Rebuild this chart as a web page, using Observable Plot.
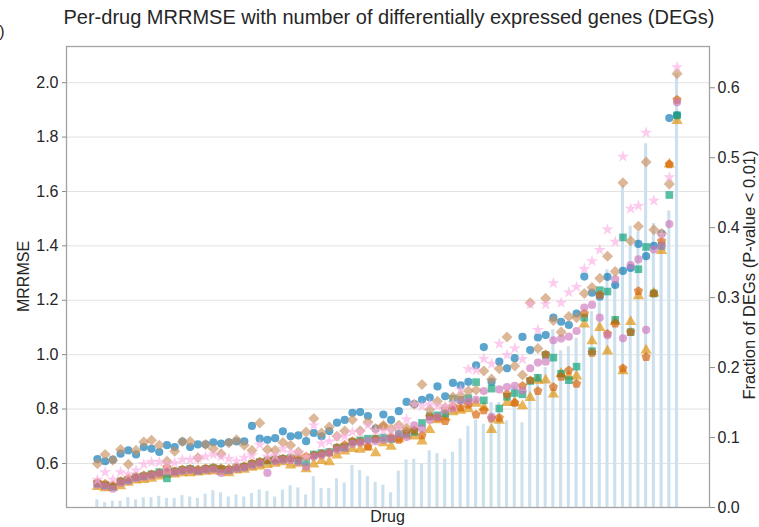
<!DOCTYPE html>
<html><head><meta charset="utf-8">
<script src="https://cdn.jsdelivr.net/npm/d3@7"></script>
<script src="https://cdn.jsdelivr.net/npm/@observablehq/plot@0.6"></script>
<style>
body{margin:0;background:#fff;}
svg{display:block;font-family:"Liberation Sans",Arial,sans-serif;}
</style>
</head><body><div id="chart"></div>
<script>
// ---- data (76 drugs, sorted by MRRMSE) ----
const drugIndex = Array.from({length: 76}, (_, i) => i);
const degFraction = [0.011,0.007,0.009,0.009,0.014,0.011,0.014,0.014,0.016,0.013,0.013,0.017,0.015,
 0.013,0.019,0.024,0.021,0.015,0.018,0.015,0.02,0.025,0.023,0.015,0.025,
 0.031,0.028,0.018,0.044,0.027,0.027,0.041,0.035,0.06,0.053,0.044,0.036,0.032,
 0.021,0.052,0.068,0.069,0.062,0.081,0.077,0.069,0.079,0.098,0.116,0.125,0.119,
 0.15,0.15,0.124,0.173,0.121,0.18,0.19,0.2,0.254,0.224,0.23,0.242,0.26,0.28,0.294,0.34,0.32,
 0.46,0.402,0.394,0.52,0.406,0.39,0.424,0.62];
const blueCircles = [0.616,0.608,0.614,0.636,0.648,0.633,0.66,0.654,0.642,0.667,0.66,0.68,0.66,
 0.67,0.67,0.678,0.673,0.678,0.681,0.681,0.738,0.691,0.687,0.693,0.718,
 0.70,0.703,0.682,0.712,0.70,0.719,0.75,0.76,0.786,0.789,0.774,0.728,0.78,
 0.76,0.792,0.826,0.818,0.834,0.842,0.883,0.847,0.896,0.887,0.9,0.961,1.028,
 0.9,0.974,0.95,0.987,1.065,1.017,1.063,1.072,1.136,1.121,1.109,1.151,1.287,1.228,1.213,1.286,1.256,
 1.308,1.319,1.407,1.362,1.4,1.445,1.87,1.88];
const tanDiamonds = [0.599,0.633,0.612,0.651,0.597,0.648,0.679,0.685,0.667,0.608,0.645,0.68,0.681,
 0.621,0.67,0.654,0.636,0.675,0.687,0.667,0.648,0.749,0.651,0.648,0.677,
 0.667,0.642,0.716,0.765,0.712,0.734,0.70,0.719,0.761,0.72,0.752,0.728,0.74,
 0.728,0.74,0.73,0.818,0.89,0.798,0.829,0.805,0.844,0.85,0.866,0.87,0.94,
 0.91,0.948,1.065,0.958,0.925,1.191,1.023,1.207,1.126,1.083,1.14,1.136,1.225,1.247,1.281,1.362,1.306,
 1.632,1.418,1.472,1.708,1.459,1.445,1.627,2.033];
const pinkStars = [0.54,0.568,0.541,0.568,0.56,0.574,0.597,0.605,0.605,0.596,0.602,0.614,0.614,
 0.62,0.625,0.633,0.625,0.617,0.608,0.621,0.63,0.669,0.625,0.629,0.654,
 0.64,0.64,0.623,0.74,0.673,0.681,0.697,0.70,0.716,0.716,0.74,0.72,0.72,
 0.72,0.734,0.762,0.818,0.81,0.818,0.81,0.81,0.822,0.871,0.947,0.942,0.985,
 0.967,1.04,0.999,1.023,0.983,1.185,1.091,1.185,1.263,1.191,1.229,1.249,1.315,1.344,1.385,1.46,1.415,
 1.728,1.537,1.547,1.816,1.566,1.44,1.652,2.057];
const greenSquares = [0.526,0.52,0.515,0.534,0.54,0.55,0.553,0.56,0.568,0.545,0.571,0.576,0.58,
 0.574,0.58,0.583,0.58,0.576,0.585,0.588,0.598,0.605,0.611,0.614,0.617,
 0.62,0.611,0.605,0.633,0.638,0.642,0.658,0.66,0.679,0.685,0.691,0.691,0.695,
 0.69,0.709,0.71,0.716,0.749,0.774,0.777,0.783,0.838,0.834,0.84,0.899,0.832,
 0.875,0.802,0.845,0.859,0.854,0.903,0.915,0.999,0.989,0.93,0.906,0.956,1.136,1.013,1.237,1.232,1.128,
 1.431,1.083,1.314,1.396,1.225,1.4,1.587,1.88];
const redPentagons = [0.53,0.525,0.52,0.535,0.545,0.552,0.556,0.56,0.565,0.585,0.571,0.578,0.58,
 0.578,0.582,0.585,0.582,0.58,0.588,0.59,0.6,0.607,0.612,0.616,0.618,
 0.62,0.622,0.625,0.63,0.635,0.64,0.658,0.668,0.682,0.68,0.662,0.69,0.736,
 0.697,0.687,0.718,0.722,0.703,0.772,0.769,0.756,0.81,0.805,0.816,0.78,0.795,
 0.765,0.768,0.854,0.823,0.885,0.906,0.866,1.001,0.881,0.918,0.942,0.893,1.151,1.007,1.22,1.077,1.114,
 0.95,1.083,1.234,0.991,1.225,1.418,1.70,1.937];
const purpleCircles = [0.522,0.515,0.507,0.528,0.535,0.545,0.55,0.555,0.562,0.57,0.566,0.572,0.575,
 0.572,0.576,0.578,0.565,0.574,0.58,0.584,0.592,0.6,0.565,0.608,0.612,
 0.612,0.605,0.588,0.625,0.63,0.638,0.65,0.655,0.672,0.676,0.683,0.682,0.687,
 0.69,0.706,0.697,0.74,0.728,0.76,0.77,0.795,0.801,0.831,0.829,0.834,0.866,
 0.771,0.872,0.881,0.885,0.869,0.95,0.971,0.974,1.053,1.059,1.066,1.087,1.173,1.183,1.136,1.071,1.277,
 1.06,1.329,1.35,1.091,1.387,1.4,1.48,1.928];
const orangeTriangles = [0.514,0.51,0.512,0.517,0.53,0.538,0.54,0.545,0.553,0.56,0.56,0.565,0.565,
 0.568,0.57,0.572,0.57,0.565,0.575,0.578,0.585,0.59,0.595,0.6,0.605,
 0.593,0.6,0.58,0.597,0.61,0.605,0.63,0.645,0.654,0.651,0.66,0.638,0.675,
 0.662,0.69,0.703,0.70,0.682,0.724,0.76,0.77,0.789,0.795,0.8,0.82,0.806,
 0.724,0.758,0.823,0.823,0.811,0.842,0.905,0.906,0.854,0.93,0.92,0.921,1.112,1.05,1.099,1.013,1.121,
 0.94,1.121,1.216,1.016,1.226,1.382,1.70,1.86];
const leftTicks = [0.6,0.8,1.0,1.2,1.4,1.6,1.8,2.0];
const rightTicks = [0.0,0.1,0.2,0.3,0.4,0.5,0.6];

// ---- scales ----
const yDomain = [0.438, 2.133];
const fracDomain = [0, 0.659];
const fracToY = d3.scaleLinear(fracDomain, yDomain);

// ---- custom symbols ----
const diamondSym = {draw(ctx, size) {const s = Math.sqrt(size / 2); ctx.moveTo(0, -s); ctx.lineTo(s, 0); ctx.lineTo(0, s); ctx.lineTo(-s, 0); ctx.closePath();}};
const pentagonSym = {draw(ctx, size) {const R = Math.sqrt(size / (2.5 * Math.sin(2 * Math.PI / 5)));
  for (let k = 0; k < 5; k++) {const a = -Math.PI / 2 + k * 2 * Math.PI / 5; const x = R * Math.cos(a), y = R * Math.sin(a); k ? ctx.lineTo(x, y) : ctx.moveTo(x, y);} ctx.closePath();}};

const bars = drugIndex.map(i => ({i, f: degFraction[i]}));
const series = [
  {v: blueCircles, color: "#0173b2", symbol: "circle", r: 4.1},
  {v: orangeTriangles, color: "#de8f05", symbol: "triangle", r: 4.2},
  {v: greenSquares, color: "#029e73", symbol: "square", r: 4.3},
  {v: redPentagons, color: "#d55e00", symbol: pentagonSym, r: 4.2},
  {v: purpleCircles, color: "#cc78bc", symbol: "circle", r: 4.1},
  {v: tanDiamonds, color: "#ca9161", symbol: diamondSym, r: 4.4},
  {v: pinkStars, color: "#fbafe4", symbol: "star", r: 3.8}
];

const dotMarks = series.map(s => Plot.dot(drugIndex, {
  x: i => i, y: i => s.v[i], symbol: () => s.symbol, r: s.r,
  fill: s.color, fillOpacity: 0.65, stroke: "none"
}));

const chart = Plot.plot({
  width: 759, height: 527,
  marginLeft: 66, marginRight: 50, marginTop: 46, marginBottom: 20,
  x: {domain: [-4.0, 79.2], axis: null},
  y: {domain: yDomain, axis: null},
  symbol: {type: "identity"},
  marks: [
    Plot.gridY(leftTicks, {stroke: "#e2e2e2", strokeOpacity: 1, strokeWidth: 1}),
    Plot.rectY(bars, {x1: d => d.i - 0.2, x2: d => d.i + 0.2, y1: yDomain[0], y2: d => fracToY(d.f), fill: "#cde0ee"}),
    ...dotMarks,
    Plot.frame({stroke: "#a3a3a3", strokeWidth: 1.3}),
    Plot.axisY(leftTicks, {anchor: "left", tickSize: 4, tickPadding: 4, tickFormat: d3.format(".1f"), fontSize: 16, stroke: "#8a8a8a", fill: "#262626"}),
    Plot.axisY(rightTicks.map(t => fracToY(t)), {anchor: "right", tickSize: 5, tickPadding: 3, tickFormat: d => d3.format(".1f")(fracToY.invert(d)), fontSize: 16, stroke: "#8a8a8a", fill: "#262626"})
  ]
});

const svg = d3.select(chart);
svg.append("text").attr("x", 389).attr("y", 24).attr("text-anchor", "middle").attr("font-size", 20).attr("fill", "#262626")
  .text("Per-drug MRRMSE with number of differentially expressed genes (DEGs)");
svg.append("text").attr("transform", "translate(29,276.5) rotate(-90)").attr("text-anchor", "middle").attr("font-size", 16).attr("fill", "#262626").text("MRRMSE");
svg.append("text").attr("transform", "translate(755,275) rotate(-90)").attr("text-anchor", "middle").attr("font-size", 16.5).attr("fill", "#262626").text("Fraction of DEGs (P-value < 0.01)");
svg.append("text").attr("x", 387.5).attr("y", 522).attr("text-anchor", "middle").attr("font-size", 16).attr("fill", "#262626").text("Drug");
svg.append("text").attr("x", 2).attr("y", 37).attr("font-size", 16).attr("fill", "#262626").text(")");
document.getElementById("chart").appendChild(chart);
</script>
</body></html>
